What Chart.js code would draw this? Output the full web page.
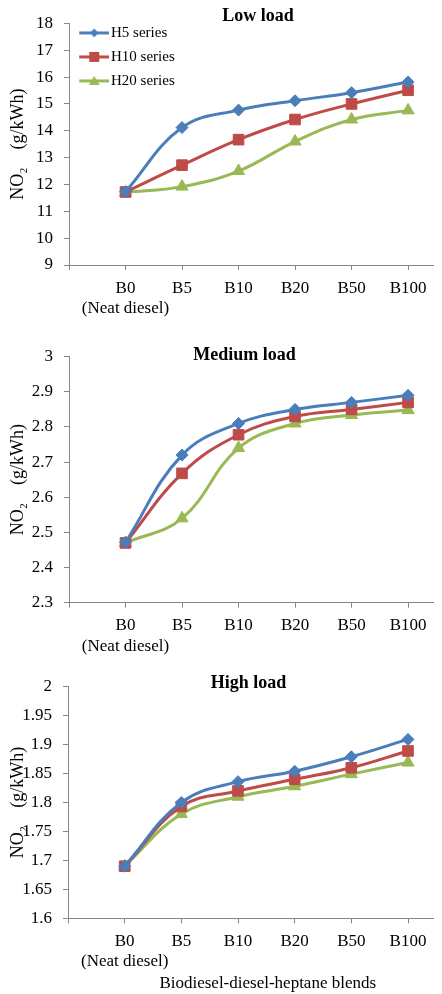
<!DOCTYPE html>
<html>
<head>
<meta charset="utf-8">
<script src="https://cdn.jsdelivr.net/npm/chart.js@4/dist/chart.umd.min.js"></script>
<style>
  html, body { margin: 0; padding: 0; background: #fff; }
  body { width: 442px; height: 994px; position: relative; overflow: hidden; }
  .panel { position: absolute; left: 0; width: 442px; }
</style>
</head>
<body>
<div class="panel" style="top:0;height:330px"><canvas id="low" width="442" height="330"></canvas></div>
<div class="panel" style="top:330px;height:330px"><canvas id="medium" width="442" height="330"></canvas></div>
<div class="panel" style="top:660px;height:334px"><canvas id="high" width="442" height="334"></canvas></div>
<script>
// categories (index 0..5 on the x axis, -1 is the empty slot before B0)
const blends = [["B0", "(Neat diesel)"], "B5", "B10", "B20", "B50", "B100"];
const xSlots = [-1, 0, 1, 2, 3, 4, 5];
const seriesNames = ["H5 series", "H10 series", "H20 series"];

// NO2 (g/kWh), low load
const lowH5 = [11.73, 14.12, 14.77, 15.12, 15.42, 15.82];
const lowH10 = [11.72, 12.72, 13.67, 14.42, 15.0, 15.51];
const lowH20 = [11.7, 11.92, 12.5, 13.6, 14.42, 14.76];
const lowTicks = [9, 10, 11, 12, 13, 14, 15, 16, 17, 18];

// medium load
const medH5 = [2.472, 2.72, 2.81, 2.85, 2.87, 2.89];
const medH10 = [2.47, 2.668, 2.778, 2.83, 2.85, 2.87];
const medH20 = [2.47, 2.54, 2.74, 2.81, 2.834, 2.848];
const medTicks = [2.3, 2.4, 2.5, 2.6, 2.7, 2.8, 2.9, 3];

// high load
const highH5 = [1.69, 1.8, 1.836, 1.854, 1.879, 1.909];
const highH10 = [1.69, 1.793, 1.82, 1.84, 1.86, 1.889];
const highH20 = [1.69, 1.78, 1.81, 1.828, 1.849, 1.869];
const highTicks = [1.6, 1.65, 1.7, 1.75, 1.8, 1.85, 1.9, 1.95, 2];

const colors = ["#4a7ebb", "#be4b48", "#98b954"];
const markers = ["rectRot", "rect", "triangle"];
const markerSize = [6, 7.5, 7];
const axisColor = "#868686";
const serif = "'Liberation Serif', 'Times New Roman', serif";

Chart.defaults.font.family = serif;
Chart.defaults.color = "#000";

// little line+marker pictures for the legend, like Excel draws them
function legendIcon(color, style) {
  const c = document.createElement("canvas");
  c.width = 37;
  c.height = 14;
  const g = c.getContext("2d");
  g.strokeStyle = color;
  g.lineWidth = 3;
  g.beginPath();
  g.moveTo(7, 7);
  g.lineTo(37, 7);
  g.stroke();
  g.fillStyle = color;
  const cx = 22, cy = 7;
  g.beginPath();
  if (style === "rectRot") {
    g.moveTo(cx, cy - 4.5); g.lineTo(cx + 4, cy); g.lineTo(cx, cy + 4.5); g.lineTo(cx - 4, cy);
  } else if (style === "rect") {
    g.rect(cx - 5, cy - 5, 10, 10);
  } else {
    g.moveTo(cx, cy - 5); g.lineTo(cx + 5.5, cy + 4); g.lineTo(cx - 5.5, cy + 4);
  }
  g.closePath();
  g.fill();
  return c;
}
const legendIcons = colors.map((c, i) => legendIcon(c, markers[i]));
const defaultLabels = Chart.defaults.plugins.legend.labels.generateLabels;

// put the legend inside the plot, top-left
const legendInside = {
  id: "legendInside",
  afterLayout(chart) {
    const lg = chart.legend;
    if (!lg || !lg.options.display) return;
    const ca = chart.chartArea;
    lg.left = ca.left;
    lg.top = ca.top - 7;
    lg.right = lg.left + lg.width;
    lg.bottom = lg.top + lg.height;
  }
};

function makeChart(id, title, titlePad, values, yTicks, opt) {
  const datasets = values.map((vals, i) => ({
    label: seriesNames[i],
    data: vals.map((v, k) => ({ x: k, y: v })),
    borderColor: colors[i],
    backgroundColor: colors[i],
    borderWidth: 3,
    tension: 0.4,
    pointStyle: markers[i],
    pointRadius: markerSize[i],
    pointBorderWidth: 1,
    pointBackgroundColor: colors[i],
    pointBorderColor: colors[i]
  }));

  return new Chart(document.getElementById(id), {
    type: "line",
    data: { datasets },
    plugins: [legendInside],
    options: {
      responsive: false,
      animation: false,
      layout: { padding: { left: 0, right: 1, top: 0, bottom: 0 } },
      plugins: {
        title: {
          display: true,
          text: title,
          fullSize: false,
          color: "#000",
          font: { size: 18, weight: "bold" },
          padding: titlePad
        },
        legend: {
          display: !!opt.legend,
          position: "chartArea",
          align: "start",
          labels: {
            usePointStyle: true,
            pointStyleWidth: 25.5,
            padding: 9,
            color: "#000",
            font: { size: 15 },
            generateLabels: (chart) =>
              defaultLabels(chart).map((it, i) => ({ ...it, pointStyle: legendIcons[i] }))
          }
        },
        tooltip: { enabled: false }
      },
      scales: {
        x: {
          type: "linear",
          min: -1,
          max: 5.45,
          afterBuildTicks: (s) => { s.ticks = xSlots.map((v) => ({ value: v })); },
          afterFit: (s) => { s.height = opt.xHeight; },
          ticks: {
            autoSkip: false,
            maxRotation: 0,
            minRotation: 0,
            padding: 8,
            color: "#000",
            font: { size: 17 },
            callback: (v) => (v >= 0 ? blends[v] : "")
          },
          grid: { drawOnChartArea: false, tickLength: 5, color: axisColor },
          border: { color: axisColor },
          title: {
            display: !!opt.xTitle,
            text: opt.xTitle || "",
            color: "#000",
            font: { size: 17 },
            padding: { top: 0, bottom: 0 }
          }
        },
        y: {
          min: yTicks[0],
          max: yTicks[yTicks.length - 1],
          afterBuildTicks: (s) => { s.ticks = yTicks.map((v) => ({ value: v })); },
          afterFit: (s) => { s.width = opt.yWidth; },
          ticks: {
            padding: 11,
            color: "#000",
            font: { size: 17 },
            callback: (v) => String(v)
          },
          grid: { drawOnChartArea: false, tickLength: 5, color: axisColor },
          border: { color: axisColor },
          title: {
            display: true,
            text: "NO\u2082    (g/kWh)",
            color: "#000",
            font: { size: 18 },
            padding: { top: 7, bottom: 0 }
          }
        }
      }
    }
  });
}

makeChart("low", "   Low load", { top: 6, bottom: -4.2 },
  [lowH5, lowH10, lowH20], lowTicks, { legend: true, yWidth: 69, xHeight: 65 });
makeChart("medium", "Medium load   ", { top: 14.2, bottom: -9.1 },
  [medH5, medH10, medH20], medTicks, { yWidth: 69, xHeight: 57.3 });
makeChart("high", "High load ", { top: 12.5, bottom: -7.4 },
  [highH5, highH10, highH20], highTicks,
  { yWidth: 68, xHeight: 75.7, xTitle: "        Biodiesel-diesel-heptane blends" });
</script>
</body>
</html>
